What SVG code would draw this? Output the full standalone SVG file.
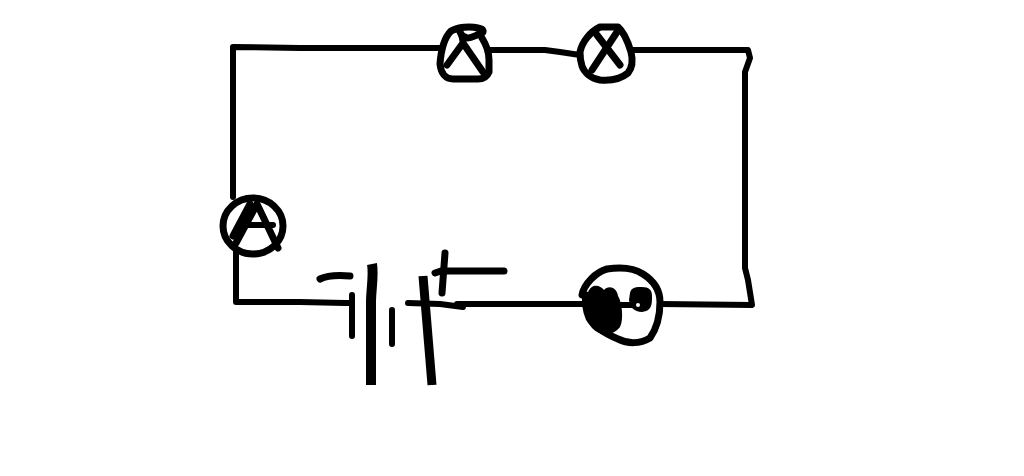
<svg xmlns="http://www.w3.org/2000/svg" width="1024" height="476" viewBox="0 0 1024 476">
<style>
.s{fill:none;stroke:#000;stroke-width:6;stroke-linecap:round;stroke-linejoin:round}
.n{stroke-width:7}
.b{fill:none;stroke:#000;stroke-linejoin:round;stroke-linecap:butt}
</style>
<rect width="1024" height="476" fill="#fff"/>
<g id="connectors">
<path class="s" d="M233 197V47L300 48L440 48"/>
<path class="s" d="M490 50H545L560 52L580 55"/>
<path class="s" d="M632 50H748L750 58L745 72V268L748 280L752 305L660 304"/>
<path class="s" d="M236 252V302H300L345 303L352 303"/>
<path class="s" d="M408 303L440 304L463 307"/>
<path class="s" d="M457 304H587"/>
</g>
<g id="lamp-1">
<path class="s n" d="M482 38C487 46 489 52 489 60L489 72C487 77 483 79 478 79H453C446 79 441 74 440 64C441 50 444 38 451 31C458 27 470 26 478 28C484 29 484 32 482 33C476 35 472 38 467 38C463 37 461 35 460 32"/>
<path class="s n" d="M447 65L463 43L483 72"/>
<path class="s" d="M463 43L461 34"/>
</g>
<g id="lamp-2">
<path class="s n" d="M580 52C582 42 590 32 600 27L618 27C624 32 628 42 631 52C633 60 632 68 628 73C622 78 612 81 600 80C590 78 584 72 582 66C580 60 580 56 580 52Z"/>
<path class="s n" d="M592 70L617 32"/>
<path class="s n" d="M597 35L620 65"/>
</g>
<g id="ammeter">
<ellipse class="s n" cx="253" cy="226" rx="30" ry="28"/>
<path class="s n" d="M236 243L257 204L278 248"/>
<path class="s n" d="M233 236L250 204"/>
<path class="s" d="M247 225H273"/>
</g>
<g id="battery">
<path class="s n" d="M320 279C326 276 338 275 350 276"/>
<path class="s" d="M352 295V336"/>
<path class="b" stroke-width="10" d="M372 264C374 275 371 290 371 302V385"/>
<path class="s" d="M392 310V344"/>
<path class="b" stroke-width="9" d="M423 276L432 385"/>
<path class="s n" d="M445 253L442 293"/>
<path class="s n" d="M435 273L441 271H504"/>
</g>
<g id="bulb">
<path class="s n" d="M582 295C584 284 596 272 607 269C620 267 634 268 643 274C654 281 660 290 660 302C660 316 657 328 650 338C640 344 628 344 618 339C606 334 594 327 589 318C585 308 585 300 586 295"/>
<path fill="#000" d="M588 292C592 283 600 285 604 290C608 285 617 287 618 296C622 302 624 320 620 327C612 337 600 336 592 328C584 318 584 302 588 292Z"/>
<path fill="#000" d="M630 293C631 287 637 287 642 287C649 287 652 290 652 296C652 304 652 311 642 312C634 312 630 307 629 300Z"/>
<path class="s" d="M615 305H634"/>
<circle cx="638" cy="305" r="2" fill="#fff"/>
</g>
</svg>
